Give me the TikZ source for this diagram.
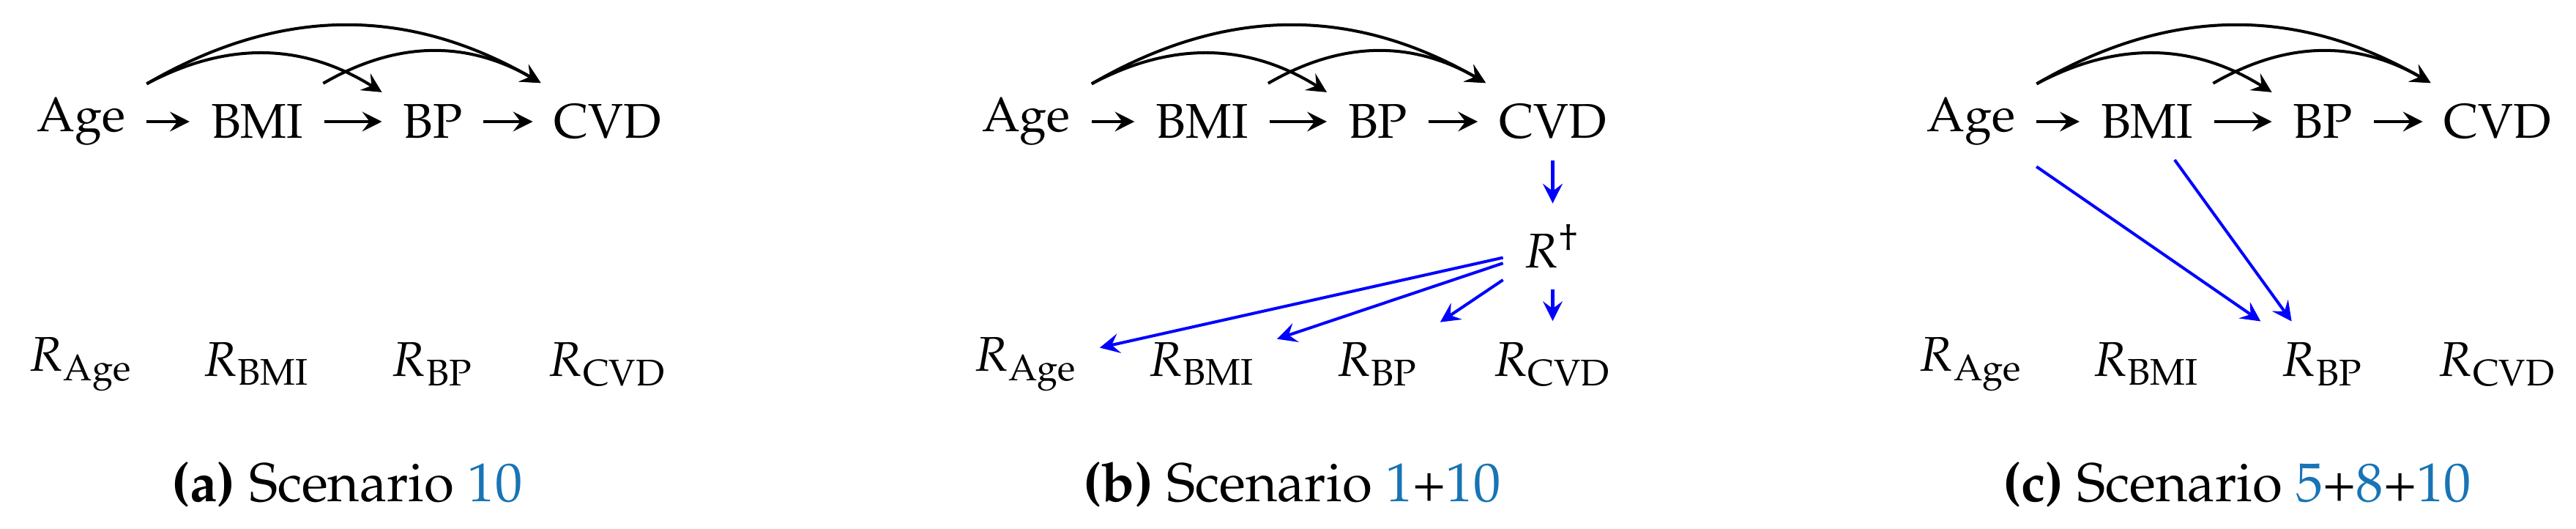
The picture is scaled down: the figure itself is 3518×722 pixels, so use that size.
\documentclass[tikz,border=0pt]{standalone}
\usepackage[T1]{fontenc}
\usepackage{mathpazo}
\usepackage{xcolor}
\usetikzlibrary{arrows.meta}
\definecolor{capblue}{RGB}{24,116,181}
\newcommand{\diagfont}{\fontsize{8.93pt}{10.7pt}\selectfont}
\newcommand{\capfont}{\fontsize{10pt}{12pt}\selectfont}
\begin{document}
\begin{tikzpicture}[x=0.13423pt,y=-0.13423pt,
  v/.style={inner sep=3.9pt, outer sep=0pt, font=\diagfont},
  arr/.style={-{Stealth[length=3.6pt,width=3.6pt,inset=1.35pt]}, line width=0.54pt},
  barr/.style={arr, blue},
  captxt/.style={anchor=base, inner sep=0pt, font=\capfont}]
\useasboundingbox (0,0) rectangle (3518,722);
% ---------- panel a
\begin{scope}
  \node[v] (aAge) at (111,166) {Age};
  \node[v] (aBMI) at (351,166) {BMI};
  \node[v] (aBP)  at (591,166) {BP};
  \node[v] (aCVD) at (830,166) {CVD};
  \node[v] (aRAge) at (111,497) {$R_{\mathrm{Age}}$};
  \node[v] (aRBMI) at (351,497) {$R_{\mathrm{BMI}}$};
  \node[v] (aRBP)  at (591,497) {$R_{\mathrm{BP}}$};
  \node[v] (aRCVD) at (830,497) {$R_{\mathrm{CVD}}$};
  \draw[arr] (aAge) -- (aBMI);
  \draw[arr] (aBMI) -- (aBP);
  \draw[arr] (aBP) -- (aCVD);
  \draw[arr] (aAge) to[bend left=30] (aBP);
  \draw[arr] (aAge) to[bend left=30] (aCVD);
  \draw[arr] (aBMI) to[bend left=30] (aCVD);
  \node[captxt] (acap) at (474,685) {\textbf{(a)} Scenario \textcolor{capblue}{10}};
\end{scope}
% ---------- panel b
\begin{scope}[xshift=173.22pt]
  \node[v] (bAge) at (111,166) {Age};
  \node[v] (bBMI) at (351,166) {BMI};
  \node[v] (bBP)  at (591,166) {BP};
  \node[v] (bCVD) at (830,166) {CVD};
  \node[v] (bRd)  at (830,336.5) {$R^{\dagger}$};
  \node[v] (bRAge) at (111,497) {$R_{\mathrm{Age}}$};
  \node[v] (bRBMI) at (351,497) {$R_{\mathrm{BMI}}$};
  \node[v] (bRBP)  at (591,497) {$R_{\mathrm{BP}}$};
  \node[v] (bRCVD) at (830,497) {$R_{\mathrm{CVD}}$};
  \draw[arr] (bAge) -- (bBMI);
  \draw[arr] (bBMI) -- (bBP);
  \draw[arr] (bBP) -- (bCVD);
  \draw[arr] (bAge) to[bend left=30] (bBP);
  \draw[arr] (bAge) to[bend left=30] (bCVD);
  \draw[arr] (bBMI) to[bend left=30] (bCVD);
  \draw[barr] (bCVD) -- (bRd);
  \draw[barr] (bRd) -- (bRAge);
  \draw[barr] (bRd) -- (bRBMI);
  \draw[barr] (bRd) -- (bRBP);
  \draw[barr] (bRd) -- (bRCVD);
  \node[captxt] (bcap) at (474,685) {\textbf{(b)} Scenario \textcolor{capblue}{1}+\textcolor{capblue}{10}};
\end{scope}
% ---------- panel c
\begin{scope}[xshift=346.45pt]
  \node[v] (cAge) at (111,166) {Age};
  \node[v] (cBMI) at (351,166) {BMI};
  \node[v] (cBP)  at (591,166) {BP};
  \node[v] (cCVD) at (830,166) {CVD};
  \node[v] (cRAge) at (111,497) {$R_{\mathrm{Age}}$};
  \node[v] (cRBMI) at (351,497) {$R_{\mathrm{BMI}}$};
  \node[v] (cRBP)  at (591,497) {$R_{\mathrm{BP}}$};
  \node[v] (cRCVD) at (830,497) {$R_{\mathrm{CVD}}$};
  \draw[arr] (cAge) -- (cBMI);
  \draw[arr] (cBMI) -- (cBP);
  \draw[arr] (cBP) -- (cCVD);
  \draw[arr] (cAge) to[bend left=30] (cBP);
  \draw[arr] (cAge) to[bend left=30] (cCVD);
  \draw[arr] (cBMI) to[bend left=30] (cCVD);
  \draw[barr] (cAge) -- (cRBP);
  \draw[barr] (cBMI) -- (cRBP);
  \node[captxt] (ccap) at (474,685) {\textbf{(c)} Scenario \textcolor{capblue}{5}+\textcolor{capblue}{8}+\textcolor{capblue}{10}};
\end{scope}
\end{tikzpicture}
\end{document}
